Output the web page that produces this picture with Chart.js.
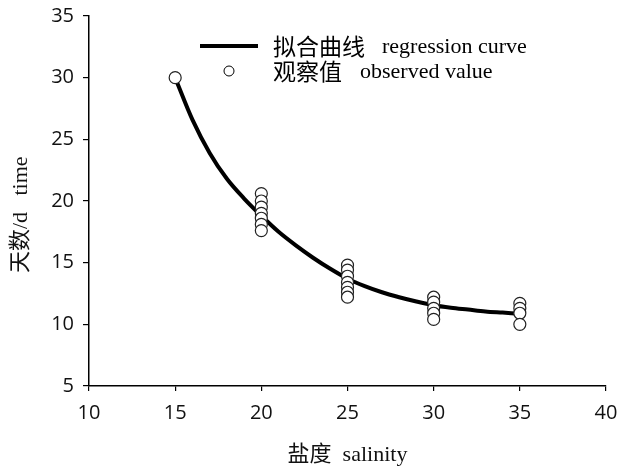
<!DOCTYPE html>
<html>
<head>
<meta charset="utf-8">
<script src="https://cdn.jsdelivr.net/npm/chart.js@4.4.1/dist/chart.umd.min.js"></script>
<style>
  html, body { margin: 0; padding: 0; background: #fff; }
  #wrap { width: 626px; height: 472px; }
</style>
</head>
<body>
<div id="wrap"><canvas id="chart" width="626" height="472"></canvas></div>
<script>
let obsSalinity = [15, 20, 20, 20, 20, 20, 20, 20, 25, 25, 25, 25, 25, 25, 25, 30, 30, 30, 30, 30, 35, 35, 35, 35];
let obsDays = [30.0, 20.6, 20.0, 19.5, 19.0, 18.6, 18.1, 17.6, 14.8, 14.4, 13.9, 13.4, 13.0, 12.6, 12.2, 12.2, 11.8, 11.3, 10.9, 10.4, 11.7, 11.3, 10.9, 10.0];

// regression curve
let curveSalinity = [15, 16, 17, 18, 19, 20, 21, 22, 23, 24, 25, 26, 27, 28, 29, 30, 31, 32, 33, 34, 35];
let curveDays = [30.0, 26.6, 23.9, 21.8, 20.2, 18.8, 17.5, 16.4, 15.4, 14.5, 13.7, 13.1, 12.6, 12.2, 11.85, 11.55, 11.35, 11.2, 11.05, 10.95, 10.85];

let xTicks = [10, 15, 20, 25, 30, 35, 40];
let yTicks = [5, 10, 15, 20, 25, 30, 35];

let labels = ["拟合曲线|regression curve", "观察值|observed value"];

let tickFont = { family: "'Open Sans', 'DejaVu Sans', sans-serif", size: 20 };
let titleFont = { family: "'Liberation Serif', 'Noto Sans CJK SC', serif", size: 22 };

function toPoints(xs, ys){
  let pts = [];
  for(let i = 0; i < xs.length; i++){
    pts.push({ x: xs[i], y: ys[i] });
  }
  return pts;
}

// draws the legend in the upper part of the plot like the original
const legendBox = {
  id: "legendBox",
  afterDraw(chart){
    let ctx = chart.ctx;
    let a = chart.chartArea;
    let x0 = a.left + 111;
    let y0 = a.top + 30;
    ctx.save();
    ctx.strokeStyle = "#000";
    ctx.lineWidth = 4;
    ctx.beginPath();
    ctx.moveTo(x0, y0);
    ctx.lineTo(x0 + 58, y0);
    ctx.stroke();
    ctx.lineWidth = 1;
    ctx.fillStyle = "#fff";
    ctx.beginPath();
    ctx.arc(x0 + 29, y0 + 25, 5, 0, Math.PI * 2);
    ctx.fill();
    ctx.stroke();
    ctx.fillStyle = "#000";
    ctx.textBaseline = "middle";
    let gaps = [17, 18];
    chart.data.datasets.forEach((ds, i) => {
      let parts = ds.label.split("|");
      let ty = y0 + i * 25;
      ctx.font = "23px 'Noto Sans CJK SC', serif";
      ctx.fillText(parts[0], x0 + 73, ty);
      let w = ctx.measureText(parts[0]).width;
      ctx.font = "22px 'Liberation Serif', serif";
      ctx.fillText(parts[1], x0 + 73 + w + gaps[i], ty + 1);
    });
    ctx.restore();
  }
};

new Chart(document.getElementById("chart").getContext("2d"), {
  type: "scatter",
  data: {
    datasets: [
      {
        type: "line",
        label: labels[0],
        data: toPoints(curveSalinity, curveDays),
        borderColor: "#000",
        borderWidth: 4,
        pointRadius: 0,
        cubicInterpolationMode: "monotone",
        fill: false,
        order: 2
      },
      {
        label: labels[1],
        data: toPoints(obsSalinity, obsDays),
        backgroundColor: "#fff",
        borderColor: "#222",
        borderWidth: 1.2,
        pointRadius: 6,
        order: 1
      }
    ]
  },
  options: {
    responsive: false,
    animation: false,
    layout: { padding: { top: 16, right: 20, left: 0, bottom: 0 } },
    plugins: { legend: { display: false }, tooltip: { enabled: false } },
    scales: {
      x: {
        type: "linear",
        min: 10, max: 40,
        afterBuildTicks: (s) => { s.ticks = xTicks.map(v => ({ value: v })); },
        afterFit: (s) => { s.height = 86; s.paddingLeft = 0; s.paddingRight = 0; },
        border: { color: "#000", width: 1.5 },
        grid: { drawOnChartArea: false, color: "#000", tickLength: 5, lineWidth: 1.2 },
        ticks: { color: "#111", font: tickFont, padding: 10 },
        title: { display: true, text: "盐度  salinity", color: "#111", font: titleFont, padding: { top: 12 } }
      },
      y: {
        type: "linear",
        min: 5, max: 35,
        afterBuildTicks: (s) => { s.ticks = yTicks.map(v => ({ value: v })); },
        afterFit: (s) => { s.width = 89; s.paddingTop = 0; s.paddingBottom = 0; },
        border: { color: "#000", width: 1.5 },
        grid: { drawOnChartArea: false, color: "#000", tickLength: 6, lineWidth: 1.2 },
        ticks: { color: "#111", font: tickFont, padding: 9 },
        title: { display: true, text: "天数/d   time\u3000 ", color: "#111", font: titleFont, padding: { top: 8, bottom: 2 } }
      }
    }
  },
  plugins: [legendBox]
});
</script>
</body>
</html>
